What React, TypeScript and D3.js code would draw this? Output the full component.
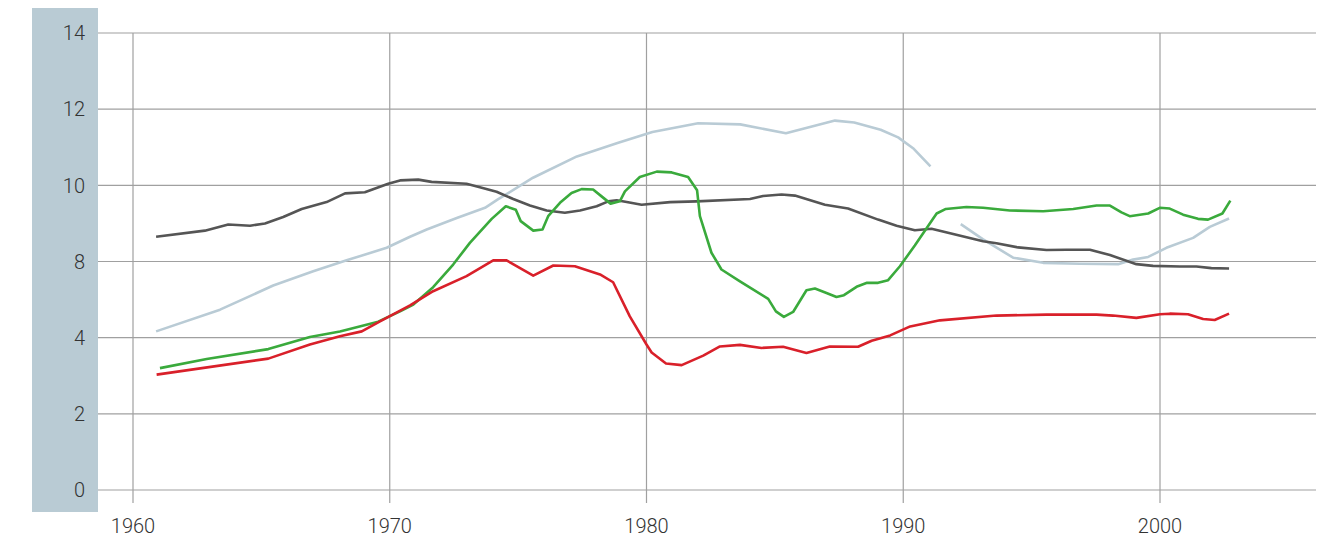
import * as d3 from 'd3';

// year, value pairs
const darkSeries: [number, number][] = [
  [1960.9, 8.65], [1962.8, 8.81], [1963.71, 8.97], [1964.56, 8.94], [1965.14, 9.0],
  [1965.85, 9.17], [1966.57, 9.38], [1967.54, 9.56], [1968.26, 9.79], [1969.03, 9.82],
  [1969.94, 10.04], [1970.4, 10.13], [1971.11, 10.15], [1971.63, 10.09], [1972.99, 10.04],
  [1973.51, 9.95], [1974.16, 9.83], [1974.81, 9.64], [1975.46, 9.47], [1976.11, 9.34],
  [1976.82, 9.28], [1977.41, 9.34], [1978.06, 9.45], [1978.51, 9.58], [1978.84, 9.61],
  [1979.23, 9.56], [1979.81, 9.49], [1980.92, 9.56], [1981.95, 9.58], [1984.03, 9.64],
  [1984.54, 9.72], [1985.26, 9.76], [1985.78, 9.73], [1986.95, 9.49], [1987.85, 9.39],
  [1989.02, 9.1], [1989.74, 8.94], [1990.45, 8.82], [1991.1, 8.86], [1993.11, 8.53],
  [1993.63, 8.48], [1994.47, 8.37], [1995.58, 8.3], [1996.36, 8.31], [1997.27, 8.31],
  [1998.05, 8.17], [1999.08, 7.86], [1999.73, 7.77], [2000.77, 7.74], [2001.42, 7.74],
  [2002.0, 7.65], [2002.69, 7.63],
];

const lightSeries: [number, number | null][] = [
  [1960.9, 4.33], [1963.39, 5.47], [1965.46, 6.74], [1967.02, 7.49], [1968.32, 8.03],
  [1969.88, 8.36], [1970.79, 8.65], [1971.44, 8.84], [1972.61, 9.14], [1973.71, 9.41],
  [1974.21, 9.63], [1975.58, 10.2], [1977.29, 10.76], [1978.87, 11.11], [1980.23, 11.4],
  [1982.01, 11.63], [1983.65, 11.6], [1985.43, 11.37], [1987.34, 11.7], [1988.09, 11.65],
  [1989.12, 11.46], [1989.8, 11.26], [1990.41, 10.96], [1991.06, 10.5],
  [1991.6, null],
  [1992.24, 8.98], [1993.11, 8.58], [1994.28, 8.1], [1995.45, 7.93], [1996.88, 7.88],
  [1998.37, 7.86], [1998.95, 8.05], [1999.54, 8.12], [2000.25, 8.36], [2001.29, 8.62],
  [2001.94, 8.91], [2002.69, 9.13],
];

const greenSeries: [number, number][] = [
  [1961.05, 3.2], [1962.87, 3.44], [1965.27, 3.7], [1966.89, 4.03], [1968.06, 4.32],
  [1969.55, 4.84], [1970.4, 5.38], [1970.92, 5.74], [1971.69, 6.65], [1972.47, 7.84],
  [1973.12, 8.49], [1973.97, 9.12], [1974.52, 9.45], [1974.91, 9.36], [1975.1, 9.06],
  [1975.59, 8.81], [1975.95, 8.84], [1976.17, 9.19], [1976.63, 9.54], [1977.08, 9.8],
  [1977.47, 9.9], [1977.92, 9.89], [1978.25, 9.71], [1978.6, 9.52], [1978.96, 9.58],
  [1979.16, 9.84], [1979.74, 10.22], [1980.4, 10.36], [1980.98, 10.34], [1981.62, 10.22],
  [1981.97, 9.87], [1982.08, 9.19], [1982.53, 8.23], [1982.92, 7.58], [1983.64, 6.96],
  [1984.74, 6.04], [1985.04, 5.38], [1985.35, 5.09], [1985.71, 5.35], [1986.23, 6.49],
  [1986.56, 6.58], [1987.01, 6.35], [1987.4, 6.14], [1987.69, 6.23], [1988.18, 6.67],
  [1988.59, 6.88], [1989.02, 6.88], [1989.41, 7.02], [1989.87, 7.75], [1990.45, 8.42],
  [1991.3, 9.26], [1991.66, 9.38], [1992.46, 9.43], [1993.11, 9.41], [1994.15, 9.34],
  [1995.45, 9.32], [1996.62, 9.38], [1997.53, 9.47], [1998.05, 9.47], [1998.5, 9.29],
  [1998.82, 9.19], [1999.54, 9.26], [1999.99, 9.41], [2000.38, 9.39], [2000.9, 9.23],
  [2001.48, 9.12], [2001.87, 9.1], [2002.43, 9.26], [2002.74, 9.6],
];

const redSeries: [number, number][] = [
  [1960.92, 3.03], [1965.27, 3.45], [1966.89, 3.82], [1968.06, 4.07], [1968.91, 4.33],
  [1969.62, 4.86], [1970.79, 5.7], [1971.69, 6.44], [1972.99, 7.23], [1974.03, 8.03],
  [1974.55, 8.03], [1975.59, 7.26], [1976.37, 7.79], [1977.21, 7.75], [1978.19, 7.32],
  [1978.7, 6.91], [1979.35, 5.12], [1980.0, 3.82], [1980.2, 3.61], [1980.76, 3.32],
  [1981.37, 3.28], [1982.21, 3.53], [1982.86, 3.77], [1983.64, 3.81], [1984.48, 3.73],
  [1985.32, 3.76], [1986.23, 3.6], [1987.14, 3.77], [1988.24, 3.76], [1988.77, 3.92],
  [1989.49, 4.12], [1990.27, 4.59], [1991.43, 4.91], [1993.63, 5.16], [1995.58, 5.21],
  [1997.53, 5.21], [1998.17, 5.16], [1999.08, 5.04], [2000.0, 5.23], [2000.38, 5.26],
  [2001.09, 5.23], [2001.68, 4.98], [2002.13, 4.93], [2002.69, 5.26],
];

const xTicks = [1960, 1970, 1980, 1990, 2000];
// the axis as printed: labels are evenly spaced but skip 6
const yTicks = [0, 2, 4, 8, 10, 12, 14];

const W = 1326;
const H = 544;
const plotLeft = 98;
const plotRight = 1316;
const plotTop = 33;
const plotBottom = 490;

const x = d3.scaleLinear().domain([1960, 2000]).range([133, 1160]);
const step = (plotBottom - plotTop) / (yTicks.length - 1);
const y = d3.scaleLinear()
  .domain(yTicks)
  .range(yTicks.map((_, i) => plotBottom - i * step));

const series = [
  { name: 'light', data: lightSeries, color: '#b9cbd5' },
  { name: 'dark', data: darkSeries, color: '#555555' },
  { name: 'green', data: greenSeries, color: '#3aaa3c' },
  { name: 'red', data: redSeries, color: '#d9202a' },
];

const line = d3.line<[number, number | null]>()
  .defined(d => d[1] !== null)
  .x(d => x(d[0]))
  .y(d => y(d[1] as number));

export default function App() {
  const font = "Roboto, 'Open Sans', sans-serif";
  return (
    <div style={{ position: 'absolute', left: 0, top: 0 }}>
      <svg width={W} height={H} style={{ display: 'block', background: '#fff' }}>
        <rect x={32} y={8} width={plotLeft - 32} height={504} fill="#b9cbd4" />

        {yTicks.map(t => (
          <g key={'y' + t}>
            <line x1={plotLeft} x2={plotRight} y1={y(t)} y2={y(t)} stroke="#a0a0a0" strokeWidth={1.2} />
            <text x={85} y={y(t)} dy="0.36em" textAnchor="end" fontFamily={font}
              fontWeight={300} fontSize={20} fill="#333">{t}</text>
          </g>
        ))}

        {xTicks.map(t => (
          <g key={'x' + t}>
            <line x1={x(t)} x2={x(t)} y1={plotTop} y2={503} stroke="#a0a0a0" strokeWidth={1.2} />
            <text x={x(t)} y={533} textAnchor="middle" fontFamily={font}
              fontWeight={300} fontSize={20} fill="#333">{t}</text>
          </g>
        ))}

        {series.map(s => (
          <path key={s.name} d={line(s.data as [number, number | null][]) || ''}
            fill="none" stroke={s.color} strokeWidth={2.6} strokeLinejoin="round" />
        ))}
      </svg>
    </div>
  );
}
